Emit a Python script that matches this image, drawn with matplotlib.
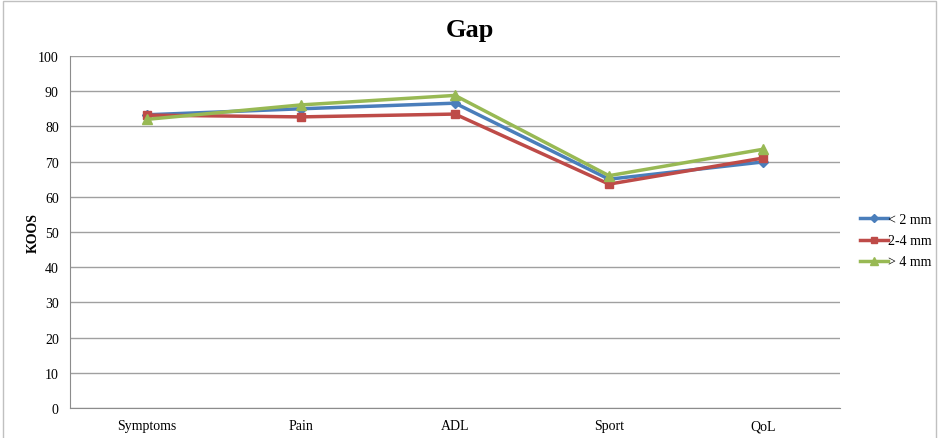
import matplotlib
matplotlib.use("Agg")
import matplotlib.pyplot as plt
from matplotlib.patches import Rectangle

categories = ["Symptoms", "Pain", "ADL", "Sport", "QoL"]
gap_lt2 = [83.3, 85.0, 86.6, 65.0, 69.9]
gap_2to4 = [83.2, 82.7, 83.5, 63.6, 71.0]
gap_gt4 = [82.0, 86.1, 88.8, 66.0, 73.5]
series_labels = ["< 2 mm", "2-4 mm", "> 4 mm"]
y_ticks = list(range(0, 101, 10))

plt.rcParams["font.family"] = ["Liberation Serif", "DejaVu Serif"]

fig = plt.figure(figsize=(9.39, 4.39), dpi=100)
ax = fig.add_axes([0.0745, 0.0683, 0.8201, 0.8019])

x = range(len(categories))
ax.plot(x, gap_lt2, color="#4a7ebb", marker="D", markersize=5, linewidth=2.5,
        label=series_labels[0], zorder=3)
ax.plot(x, gap_2to4, color="#be4b48", marker="s", markersize=6, linewidth=2.5,
        label=series_labels[1], zorder=3)
ax.plot(x, gap_gt4, color="#98b954", marker="^", markersize=7, linewidth=2.5,
        label=series_labels[2], zorder=3)

ax.set_xlim(-0.5, len(categories) - 0.5)
ax.set_ylim(0, 100)
ax.set_yticks(y_ticks)
ax.set_xticks(list(x))
ax.set_xticklabels(categories, fontsize=10)
ax.tick_params(axis="y", length=0, labelsize=10, pad=8)
ax.tick_params(axis="x", length=0, labelsize=10, pad=8)
ax.yaxis.grid(True, color="#a0a0a0", linewidth=1)
ax.set_axisbelow(True)
for side in ["top", "right"]:
    ax.spines[side].set_visible(False)
for side in ["left", "bottom"]:
    ax.spines[side].set_color("#8c8c8c")

ax.set_ylabel("KOOS", fontsize=10, fontweight="bold", labelpad=-1)
fig.text(0.5, 0.93, "Gap", ha="center", va="center", fontsize=19, fontweight="bold")

leg = fig.legend(loc="center left", bbox_to_anchor=(0.903, 0.449), frameon=False,
                 fontsize=10, handlelength=2.0, handletextpad=0.0, labelspacing=0.58,
                 markerscale=0.8)

fig.patches.append(Rectangle((3 / 939, -0.01), 933 / 939, 1 - 2 / 439 + 0.01,
                             transform=fig.transFigure, fill=False,
                             edgecolor="#c0c0c0", linewidth=1))

fig.savefig("out.png", dpi=100)
